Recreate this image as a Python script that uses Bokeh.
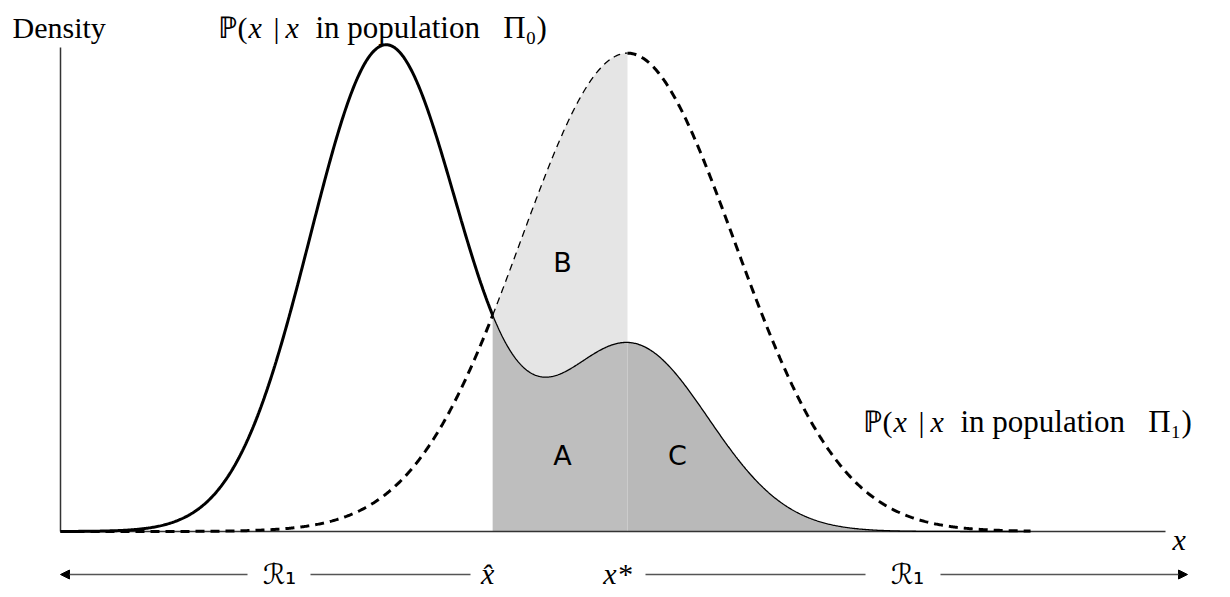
import numpy as np
from bokeh.plotting import figure
from bokeh.models import Range1d, Arrow, NormalHead
from bokeh.core.properties import value
from bokeh.embed import file_html
from bokeh.resources import INLINE

# Population Pi_0: two-component normal mixture
pop0_weight = [0.716, 0.284]
pop0_mean = [3.25, 5.70]
pop0_sd = [0.755, 0.78]

# Population Pi_1: single normal
pop1_mean = 5.67
pop1_sd = 1.07

x_start, x_end = 0.0, 9.7

W, H = 1230, 597
X0_PX, Y0_PX = 60, 531            # origin position on the canvas
X_SCALE, Y_SCALE = 100.0, 1283.0  # pixels per data unit


def dx(px):
    return (px - X0_PX) / X_SCALE


def dy(py):
    return (Y0_PX - py) / Y_SCALE


def to_px(x):
    return X0_PX + x * X_SCALE


def npdf(x, m, s):
    return np.exp(-0.5 * ((x - m) / s) ** 2) / (s * np.sqrt(2 * np.pi))


def f0(x):
    return sum(w * npdf(x, m, s) for w, m, s in zip(pop0_weight, pop0_mean, pop0_sd))


def f1(x):
    return npdf(x, pop1_mean, pop1_sd)


# decision points: crossing of the two densities and the Pi_1 mode
xs = np.linspace(pop0_mean[0], pop1_mean, 4001)
diff = f0(xs) - f1(xs)
idx = np.where(np.sign(diff[:-1]) != np.sign(diff[1:]))[0][0]
x_hat = xs[idx]
x_star = pop1_mean

p = figure(width=W, height=H, output_backend="svg", toolbar_location=None,
           x_range=Range1d(dx(0), dx(W)), y_range=Range1d(dy(H), dy(0)),
           x_axis_location=None, y_axis_location=None, min_border=0)
p.grid.visible = False
p.outline_line_color = None
p.background_fill_color = "white"

# shaded regions
xb = np.linspace(x_hat, x_star, 300)
p.varea(x=xb, y1=f0(xb), y2=f1(xb), fill_color="#e5e5e5")
p.varea(x=xb, y1=np.zeros_like(xb), y2=f0(xb), fill_color="#bebebe")
xc = np.linspace(x_star, x_end, 400)
p.varea(x=xc, y1=np.zeros_like(xc), y2=f0(xc), fill_color="#b9b9b9")

# axes
p.segment(x0=[0, 0], y0=[0, 0], x1=[dx(1165), 0], y1=[0, dy(47)],
          line_color="#333333", line_width=1.5)

# density curves
xl = np.linspace(x_start, x_hat, 400)
xr = np.linspace(x_hat, x_end, 600)
xr2 = np.linspace(x_star, x_end, 400)
p.line(xl, f0(xl), line_color="black", line_width=3)
p.line(xr, f0(xr), line_color="black", line_width=1.3)
p.line(xl, f1(xl), line_color="black", line_width=3, line_dash="9 6")
p.line(xb, f1(xb), line_color="black", line_width=1.3, line_dash="7 5")
p.line(xr2, f1(xr2), line_color="black", line_width=3, line_dash="9 6")

SERIF = "Liberation Serif"
NB = "\u00a0"


def put(px, py, t, size, font=SERIF, style="normal", align="left", baseline="alphabetic"):
    p.text(x=[dx(px)], y=[dy(py)], text=[t], text_font=value(font),
           text_font_style=style, text_font_size=f"{size}px", text_color="black",
           text_align=align, text_baseline=baseline)


def prob_label(px, py, sub):
    put(px, py, "ℙ(", 30)
    put(px + 31, py, "x", 30, style="italic")
    put(px + 56, py, "|", 30)
    put(px + 68, py, "x", 30, style="italic")
    put(px + 98, py, "in population" + NB * 3 + "Π" + sub + ")", 31)


put(12, 27, "Density", 30)
prob_label(217, 27, "₀")
prob_label(862, 421, "₁")

# region letters
for lab, px, py in [("B", 562, 262), ("A", 562, 455), ("C", 677, 455)]:
    put(px, py, lab, 27, "DejaVu Sans", align="center", baseline="middle")

# x axis label
put(1172, 539, "x", 30, style="italic")

# decision regions below the axis
ROW = 574
ARROW_COLOR = "#555555"
for a, b in [(247, 60), (940, 1187)]:
    p.add_layout(Arrow(x_start=dx(a), y_start=dy(ROW), x_end=dx(b), y_end=dy(ROW),
                       line_color=ARROW_COLOR, line_width=1.5,
                       end=NormalHead(size=9, fill_color="black", line_color="black")))
p.segment(x0=[dx(310), dx(645)], y0=[dy(ROW)] * 2, x1=[dx(470), dx(865)], y1=[dy(ROW)] * 2,
          line_color=ARROW_COLOR, line_width=1.5)

for cx in (279, 907):
    put(cx, ROW, NB + "ℛ₁" + NB, 28, "DejaVu Sans", align="center", baseline="middle")

hat_px = to_px(x_hat)
star_px = to_px(x_star)
put(hat_px - 5, ROW - 1, NB + "x\u0302" + NB, 30, style="italic", align="center",
    baseline="middle")
put(star_px - 10, ROW - 1, NB + "x*" + NB, 30, style="italic", align="center",
    baseline="middle")

open("out.html", "w").write(file_html(p, INLINE))
